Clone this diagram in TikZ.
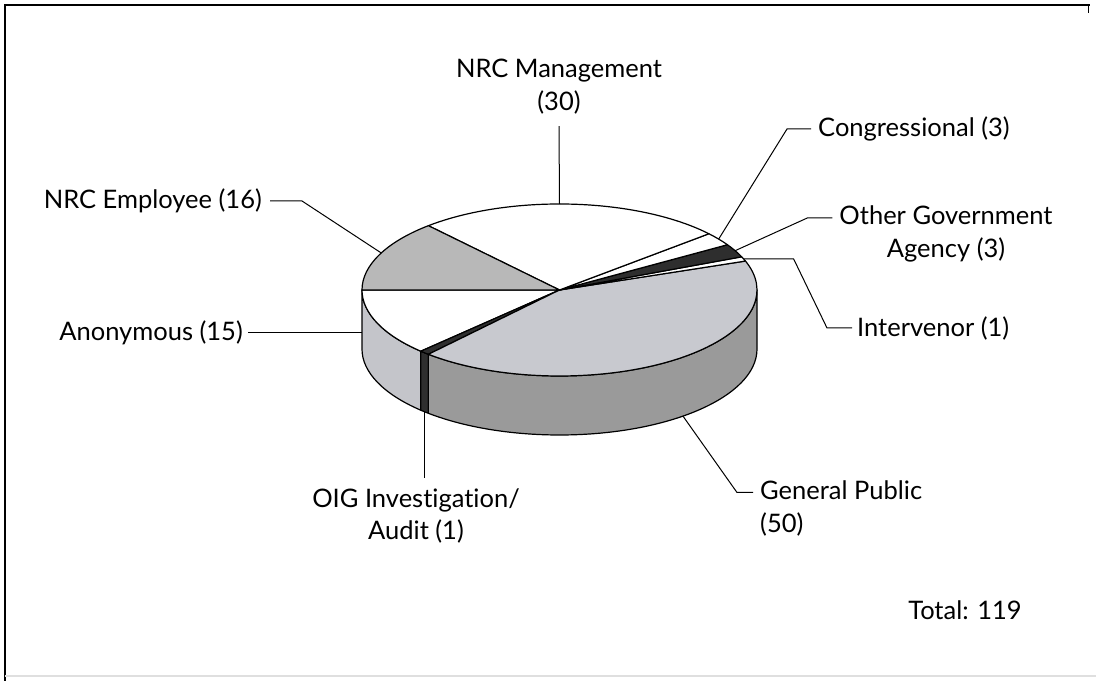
\documentclass[tikz,border=0pt]{standalone}
\usepackage{fontspec}
\setmainfont{Lato}[Ligatures=NoCommon]
\usetikzlibrary{calc}
\definecolor{empgray}{HTML}{B8B8B8}
\definecolor{gptop}{HTML}{C8C9CF}
\definecolor{gpside}{HTML}{9A9A9A}
\definecolor{anonside}{HTML}{C4C5CA}
\definecolor{darkslice}{HTML}{2E2E2E}
\tikzset{
  pieline/.style={draw=black, line width=1.2bp, line join=round},
  lead/.style={draw=black, line width=1bp},
  lbl/.style={font=\fontsize{25.6}{33}\selectfont, inner sep=0pt, text=black}
}
\newcommand{\piewall}[3]{\filldraw[pieline, fill=#3] ($(C)+(#1:197.5 and 86)$) arc[start angle=#1,end angle=#2,x radius=197.5,y radius=86] -- ($(B)+(#2:197.5 and 86)$) arc[start angle=#2,end angle=#1,x radius=197.5,y radius=86] -- cycle;}
\newcommand{\pietop}[3]{\filldraw[pieline, fill=#3] (C) -- ($(C)+(#1:197.5 and 86)$) arc[start angle=#1,end angle=#2,x radius=197.5,y radius=86] -- cycle;}
\begin{document}
\begin{tikzpicture}[x=1bp,y=1bp]
\useasboundingbox (0,0) rectangle (1096,681);
\fill[white] (0,0) rectangle (1096,681);
% frame
\draw[line width=1.8bp] (5,0) -- (5,676) -- (1090,676);
\draw[line width=1bp] (1088,676) -- (1088,668);
\draw[gray!25, line width=1.5bp] (5,5) -- (1096,5);

\coordinate (C) at (559.5,391);
\coordinate (B) at (559.5,332);

% side walls
\piewall{180}{225.378}{anonside}
\piewall{225.378}{228.403}{darkslice}
\piewall{228.403}{360}{gpside}

% top slices
\pietop{180}{225.378}{white}
\pietop{225.378}{228.403}{darkslice}
\pietop{228.403}{379.664}{gptop}
\pietop{379.664}{382.689}{white}
\pietop{382.689}{391.765}{darkslice}
\pietop{391.765}{400.840}{white}
\pietop{400.840}{491.597}{white}
\pietop{491.597}{540}{empgray}

% labels
\node[lbl, anchor=east] (lEmp) at (262,480) {NRC Employee (16)};
\coordinate (pEmp) at ($(C)+(154.5:197.5 and 86)$);
\draw[lead] ([xshift=8bp]lEmp.east) -- ++(32,0) -- (pEmp);

\node[lbl, align=center] (lMgmt) at (559,594.5) {NRC Management\\(30)};
\coordinate (pMgmt) at ($(C)+(90:197.5 and 86)$);
\draw[lead] ([yshift=-12bp]lMgmt.south) -- (pMgmt);

\node[lbl, anchor=west] (lCong) at (818,552) {Congressional (3)};
\coordinate (pCong) at ($(C)+(36.3:197.5 and 86)$);
\draw[lead] ([xshift=-7bp]lCong.west) -- ++(-24,0) -- (pCong);

\node[lbl, align=center] (lOth) at (946,447) {Other Government\\Agency (3)};
\coordinate (pOth) at ($(C)+(27.2:197.5 and 86)$);
\draw[lead] ([xshift=-7bp,yshift=16bp]lOth.west) -- ++(-25,0) -- (pOth);

\node[lbl, anchor=west] (lInt) at (857,353) {Intervenor (1)};
\coordinate (pInt) at ($(C)+(21.2:197.5 and 86)$);
\draw[lead] ([xshift=-5bp]lInt.west) -- ++(-25,0) -- ($(pInt)+(50,0)$) -- (pInt);

\node[lbl, anchor=east] (lAnon) at (243,348) {Anonymous (15)};
\coordinate (pAnon) at (362,348);
\draw[lead] ([xshift=5bp]lAnon.east) -- (pAnon);

\node[lbl, align=center] (lOIG) at (416,165) {OIG Investigation/\\Audit (1)};
\coordinate (pOIG) at ($(B)+(226.9:197.5 and 86)$);
\draw[lead] (pOIG) -- ($(pOIG |- lOIG.north)+(0,10)$);

\node[lbl, align=left, anchor=west] (lGP) at (760,172.5) {General Public\\(50)};
\coordinate (pGP) at ($(B)+(308.7:197.5 and 86)$);
\draw[lead] ([xshift=-7bp,yshift=16bp]lGP.west) -- ++(-16,0) -- (pGP);

\node[lbl] (lTot) at (965,71) {Total: 119};
\end{tikzpicture}
\end{document}
